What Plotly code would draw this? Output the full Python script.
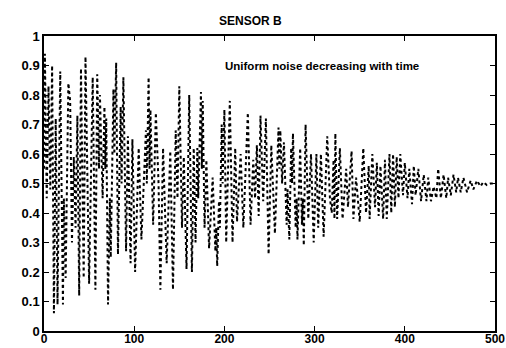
import plotly.graph_objects as go

# Sample index of each read-off turning point and its value
sample_idx = [
    0, 1, 3, 5, 7, 9, 11, 13, 15, 18, 21, 22, 24, 27, 29, 31, 33, 35, 37, 39,
    41, 44, 46, 48, 50, 54, 57, 59, 61, 62, 65, 67, 68, 69, 71, 73, 74, 77, 78, 80,
    82, 85, 86, 88, 91, 93, 96, 98, 101, 105, 108, 113, 114, 116, 117, 118, 121, 124, 127, 129,
    132, 136, 140, 143, 146, 148, 150, 153, 155, 158, 161, 164, 166, 168, 170, 171, 174, 175, 176, 178,
    180, 183, 187, 190, 191, 192, 194, 195, 197, 198, 200, 202, 206, 209, 212, 214, 218, 221, 226, 229,
    232, 234, 236, 238, 240, 243, 246, 249, 252, 256, 260, 261, 262, 264, 266, 269, 270, 272, 274, 275,
    276, 279, 280, 281, 284, 286, 287, 288, 290, 293, 296, 299, 302, 304, 307, 310, 314, 317, 319, 321,
    322, 323, 325, 328, 331, 335, 337, 341, 343, 346, 350, 354, 357, 360, 361, 364, 367, 369, 371, 373,
    376, 378, 380, 383, 385, 387, 389, 391, 393, 395, 398, 400, 403, 405, 408, 410, 412, 415, 418, 421,
    424, 426, 429, 432, 435, 437, 440, 443, 446, 448, 451, 454, 457, 459, 462, 465, 469, 473, 476, 480,
    484, 487, 491, 495, 500,
]
sensor_b = [
    0.55, 0.94, 0.45, 0.83, 0.48, 0.90, 0.06, 0.72, 0.09, 0.88, 0.09, 0.45, 0.18, 0.84, 0.78, 0.30, 0.59, 0.35, 0.73, 0.12,
    0.89, 0.18, 0.93, 0.50, 0.16, 0.86, 0.14, 0.87, 0.55, 0.80, 0.45, 0.76, 0.55, 0.72, 0.09, 0.45, 0.25, 0.82, 0.60, 0.91,
    0.26, 0.76, 0.50, 0.86, 0.27, 0.66, 0.23, 0.65, 0.20, 0.62, 0.31, 0.68, 0.50, 0.86, 0.55, 0.75, 0.36, 0.74, 0.50, 0.14,
    0.62, 0.23, 0.61, 0.14, 0.68, 0.45, 0.83, 0.35, 0.59, 0.21, 0.80, 0.20, 0.62, 0.30, 0.62, 0.45, 0.81, 0.55, 0.78, 0.35,
    0.58, 0.28, 0.52, 0.27, 0.35, 0.22, 0.44, 0.35, 0.70, 0.50, 0.75, 0.30, 0.78, 0.30, 0.62, 0.37, 0.60, 0.35, 0.74, 0.36,
    0.58, 0.45, 0.63, 0.39, 0.73, 0.44, 0.72, 0.26, 0.63, 0.33, 0.69, 0.55, 0.68, 0.50, 0.64, 0.36, 0.48, 0.31, 0.62, 0.50,
    0.67, 0.35, 0.45, 0.31, 0.62, 0.36, 0.45, 0.29, 0.70, 0.38, 0.60, 0.30, 0.60, 0.35, 0.60, 0.32, 0.66, 0.45, 0.40, 0.58,
    0.38, 0.67, 0.38, 0.62, 0.38, 0.55, 0.42, 0.61, 0.38, 0.52, 0.37, 0.62, 0.40, 0.56, 0.38, 0.60, 0.42, 0.57, 0.39, 0.56,
    0.38, 0.58, 0.38, 0.60, 0.40, 0.60, 0.42, 0.59, 0.45, 0.60, 0.46, 0.57, 0.45, 0.55, 0.43, 0.56, 0.46, 0.55, 0.44, 0.53,
    0.44, 0.52, 0.44, 0.49, 0.45, 0.55, 0.45, 0.53, 0.45, 0.52, 0.46, 0.53, 0.47, 0.52, 0.47, 0.52, 0.47, 0.51, 0.48, 0.51,
    0.49, 0.505, 0.495, 0.50, 0.50,
]

x_ticks = [0, 100, 200, 300, 400, 500]
y_ticks = [0, 0.1, 0.2, 0.3, 0.4, 0.5, 0.6, 0.7, 0.8, 0.9, 1]
y_tick_labels = ["0", "0.1", "0.2", "0.3", "0.4", "0.5", "0.6", "0.7", "0.8", "0.9", "1"]
title_text = "SENSOR B"
note_text = "Uniform noise decreasing with time"

fig = go.Figure()
fig.add_trace(go.Scatter(
    x=sample_idx, y=sensor_b, mode="lines",
    line=dict(color="black", width=2, dash="dot"),
    showlegend=False, hoverinfo="skip",
))

tickfont = dict(family="Liberation Sans, Arial, sans-serif", size=13, color="black", weight="bold")
axis_common = dict(
    showgrid=False, zeroline=False, showline=True, linecolor="black", linewidth=1.5,
    mirror="ticks", ticks="inside", ticklen=5, tickwidth=1, tickcolor="black",
    automargin=False,
)

fig.update_layout(
    width=506, height=348,
    margin=dict(l=44, r=11, t=36, b=17),
    paper_bgcolor="white", plot_bgcolor="white",
    xaxis=dict(range=[0, 500], tickvals=x_ticks, ticktext=[str(v) for v in x_ticks],
               tickfont=dict(tickfont, size=12), ticklabelstandoff=-4, **axis_common),
    yaxis=dict(range=[0, 1], tickvals=y_ticks, ticktext=y_tick_labels,
               tickfont=tickfont, **axis_common),
    annotations=[
        dict(text=title_text, xref="paper", yref="paper", x=0.458, y=1.0, yshift=15,
             xanchor="center", yanchor="middle", showarrow=False,
             font=dict(family="Liberation Sans, Arial, sans-serif",
                       size=12, color="black", weight="bold")),
        dict(text=note_text, xref="x", yref="y", x=198, y=0.9,
             xanchor="left", yanchor="middle", showarrow=False,
             font=dict(family="Liberation Sans, Arial, sans-serif", size=11.5, color="black", weight="bold")),
    ],
)

fig.write_html("out.html")
